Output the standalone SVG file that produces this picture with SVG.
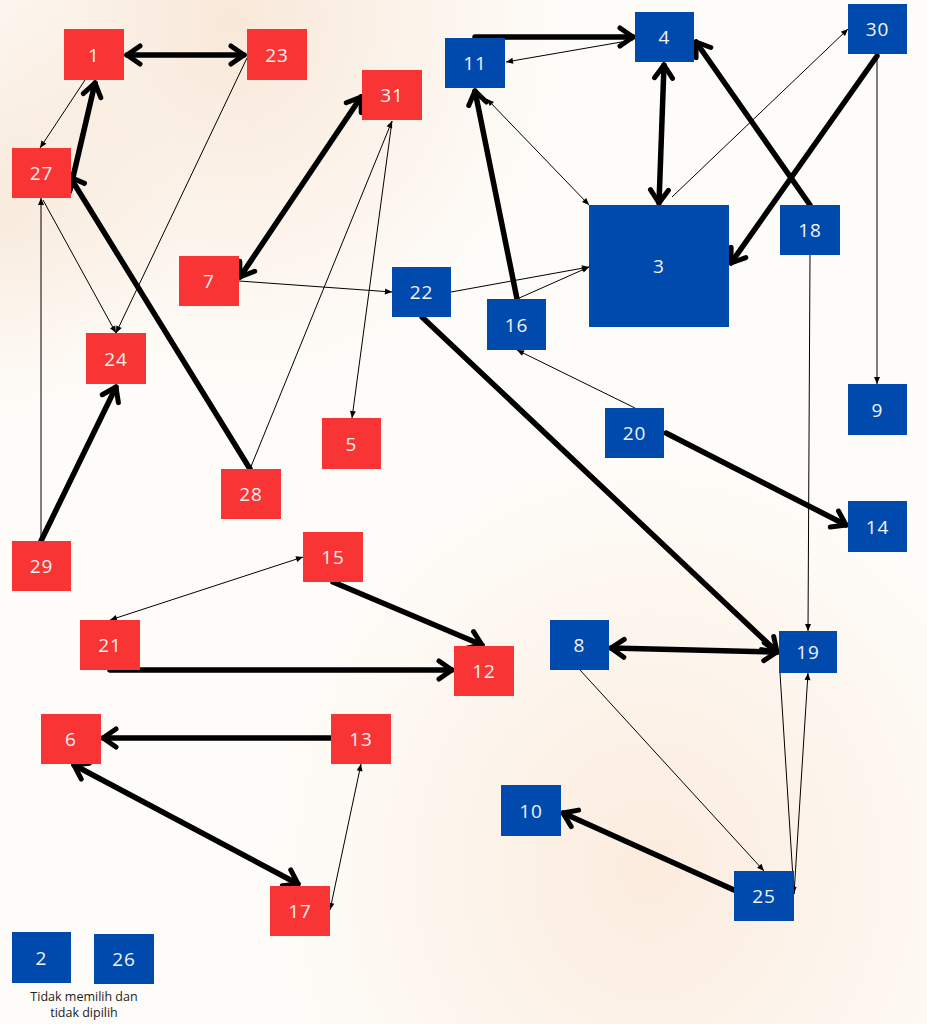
<svg xmlns="http://www.w3.org/2000/svg" width="927" height="1024" viewBox="0 0 927 1024">
<defs>
<radialGradient id="bg1" cx="0.25" cy="0.02" r="0.35"><stop offset="0" stop-color="#F8E6D6" stop-opacity="0.9"/><stop offset="1" stop-color="#F8E6D6" stop-opacity="0"/></radialGradient>
<radialGradient id="bg2" cx="0.7" cy="0.85" r="0.4"><stop offset="0" stop-color="#FBEADB" stop-opacity="0.9"/><stop offset="1" stop-color="#FBEADB" stop-opacity="0"/></radialGradient>
<radialGradient id="bg3" cx="0" cy="0.2" r="0.2"><stop offset="0" stop-color="#F7E4D2" stop-opacity="0.7"/><stop offset="1" stop-color="#F7E4D2" stop-opacity="0"/></radialGradient>
<marker id="tk" viewBox="-20 -12 24 24" markerWidth="24" markerHeight="24" refX="0" refY="0" markerUnits="userSpaceOnUse" orient="auto-start-reverse" overflow="visible">
<path d="M -13 -9 L 0 0 L -13 9" fill="none" stroke="#000" stroke-width="5" stroke-linecap="round" stroke-linejoin="round"/>
</marker>
<marker id="tn" viewBox="-8 -4 9 8" markerWidth="9" markerHeight="8" refX="0" refY="0" markerUnits="userSpaceOnUse" orient="auto-start-reverse" overflow="visible">
<path d="M -7 -3 L 0 0 L -7 3 z" fill="#000"/>
</marker>
<style>
.r{fill:#F93434}
.b{fill:#004AAD}
.t{font-family:"Open Sans","Liberation Sans",sans-serif;font-size:19px;letter-spacing:1px;fill:#F2F2F2;text-anchor:middle;dominant-baseline:central}
.k{stroke:#000;stroke-width:5.5;fill:none;stroke-linecap:round}
.n{stroke:#000;stroke-width:1;fill:none}
.k1{marker-end:url(#tk)}
.k2{marker-start:url(#tk);marker-end:url(#tk)}
.n1{marker-end:url(#tn)}
.n2{marker-start:url(#tn);marker-end:url(#tn)}
.lg{font-family:"Open Sans","Liberation Sans",sans-serif;font-size:12.5px;fill:#222;text-anchor:middle}
</style>
</defs>
<rect width="927" height="1024" fill="#FEFCF8"/>
<rect width="927" height="1024" fill="url(#bg1)"/>
<rect width="927" height="1024" fill="url(#bg2)"/>
<rect width="927" height="1024" fill="url(#bg3)"/>

<g id="connectors">
<line class="k k2" x1="127" y1="55" x2="244" y2="55"/>
<line class="k k1" x1="70" y1="190" x2="95" y2="83"/>
<line class="n n1" x1="85" y1="80" x2="40" y2="148"/>
<line class="k k1" x1="250" y1="469" x2="70" y2="177"/>
<line class="n n1" x1="247" y1="58" x2="116" y2="333"/>
<line class="n n1" x1="43" y1="200" x2="116" y2="333"/>
<line class="n n1" x1="41" y1="541" x2="41" y2="198"/>
<line class="k k1" x1="41" y1="541" x2="116" y2="387"/>
<line class="k k2" x1="240" y1="277" x2="361" y2="97"/>
<line class="n n1" x1="239" y1="281" x2="392" y2="292"/>
<line class="n n1" x1="250" y1="469" x2="392" y2="121"/>
<line class="n n1" x1="392" y1="121" x2="352" y2="418"/>
<line class="n n2" x1="303" y1="557" x2="110" y2="620"/>
<line class="k k1" x1="333" y1="582" x2="482" y2="645"/>
<line class="k k1" x1="110" y1="670" x2="452" y2="670"/>
<line class="k k1" x1="331" y1="738" x2="103" y2="738"/>
<line class="k k2" x1="74" y1="765" x2="298" y2="884"/>
<line class="n n2" x1="361" y1="764" x2="330" y2="910"/>
<line class="k k1" x1="475" y1="37" x2="633" y2="37"/>
<line class="n n1" x1="633" y1="40" x2="506" y2="62"/>
<line class="k k2" x1="664" y1="65" x2="659" y2="203"/>
<line class="k k1" x1="810" y1="205" x2="696" y2="42"/>
<line class="k k1" x1="877" y1="56" x2="731" y2="263"/>
<line class="n n1" x1="672" y1="197" x2="848" y2="29"/>
<line class="n n2" x1="487" y1="99" x2="589" y2="205"/>
<line class="k k1" x1="517" y1="299" x2="475" y2="91"/>
<line class="n n1" x1="517" y1="299" x2="589" y2="267"/>
<line class="n n1" x1="451" y1="292" x2="589" y2="267"/>
<line class="k k1" x1="422" y1="317" x2="777" y2="652"/>
<line class="n n1" x1="635" y1="408" x2="517" y2="350"/>
<line class="k k1" x1="666" y1="433" x2="846" y2="525"/>
<line class="n n1" x1="877" y1="54" x2="877" y2="384"/>
<line class="n n1" x1="810" y1="255" x2="808" y2="631"/>
<line class="k k2" x1="611" y1="648" x2="777" y2="652"/>
<line class="n n1" x1="580" y1="670" x2="764" y2="871"/>
<line class="n n1" x1="780" y1="673" x2="794" y2="894"/>
<line class="n n1" x1="794" y1="894" x2="808" y2="673"/>
<line class="k k1" x1="734" y1="890" x2="563" y2="813"/>
</g>

<g id="n1"><rect class="r" x="64" y="29" width="60" height="51"/><text class="t" x="94" y="54.5">1</text></g>
<g id="n23"><rect class="r" x="247" y="29" width="60" height="51"/><text class="t" x="277" y="54.5">23</text></g>
<g id="n31"><rect class="r" x="362" y="70" width="60" height="50"/><text class="t" x="392" y="95">31</text></g>
<g id="n27"><rect class="r" x="12" y="148" width="59" height="50"/><text class="t" x="41.5" y="173">27</text></g>
<g id="n7"><rect class="r" x="179" y="256" width="60" height="50"/><text class="t" x="209" y="281">7</text></g>
<g id="n24"><rect class="r" x="86" y="333" width="60" height="51"/><text class="t" x="116" y="358.5">24</text></g>
<g id="n5"><rect class="r" x="322" y="418" width="59" height="51"/><text class="t" x="351.5" y="443.5">5</text></g>
<g id="n28"><rect class="r" x="221" y="469" width="60" height="50"/><text class="t" x="251" y="494">28</text></g>
<g id="n29"><rect class="r" x="12" y="541" width="59" height="50"/><text class="t" x="41.5" y="566">29</text></g>
<g id="n15"><rect class="r" x="303" y="532" width="60" height="50"/><text class="t" x="333" y="557">15</text></g>
<g id="n21"><rect class="r" x="80" y="620" width="60" height="50"/><text class="t" x="110" y="645">21</text></g>
<g id="n12"><rect class="r" x="454" y="646" width="60" height="50"/><text class="t" x="484" y="671">12</text></g>
<g id="n6"><rect class="r" x="41" y="714" width="60" height="50"/><text class="t" x="71" y="739">6</text></g>
<g id="n13"><rect class="r" x="331" y="714" width="60" height="50"/><text class="t" x="361" y="739">13</text></g>
<g id="n17"><rect class="r" x="270" y="886" width="60" height="50"/><text class="t" x="300" y="911">17</text></g>

<g id="n11"><rect class="b" x="445" y="38" width="60" height="50"/><text class="t" x="475" y="63">11</text></g>
<g id="n4"><rect class="b" x="635" y="12" width="59" height="50"/><text class="t" x="664.5" y="37">4</text></g>
<g id="n30"><rect class="b" x="848" y="4" width="59" height="50"/><text class="t" x="877.5" y="29">30</text></g>
<g id="n3"><rect class="b" x="589" y="205" width="140" height="122"/><text class="t" x="659" y="266">3</text></g>
<g id="n18"><rect class="b" x="780" y="205" width="60" height="50"/><text class="t" x="810" y="230">18</text></g>
<g id="n22"><rect class="b" x="392" y="267" width="59" height="50"/><text class="t" x="421.5" y="292">22</text></g>
<g id="n16"><rect class="b" x="487" y="299" width="59" height="51"/><text class="t" x="516.5" y="324.5">16</text></g>
<g id="n9"><rect class="b" x="848" y="384" width="59" height="51"/><text class="t" x="877.5" y="409.5">9</text></g>
<g id="n20"><rect class="b" x="605" y="408" width="59" height="50"/><text class="t" x="634.5" y="433">20</text></g>
<g id="n14"><rect class="b" x="848" y="501" width="59" height="51"/><text class="t" x="877.5" y="526.5">14</text></g>
<g id="n8"><rect class="b" x="550" y="620" width="59" height="50"/><text class="t" x="579.5" y="645">8</text></g>
<g id="n19"><rect class="b" x="779" y="631" width="58" height="42"/><text class="t" x="808" y="652">19</text></g>
<g id="n10"><rect class="b" x="501" y="785" width="60" height="51"/><text class="t" x="531" y="810.5">10</text></g>
<g id="n25"><rect class="b" x="734" y="871" width="60" height="50"/><text class="t" x="764" y="896">25</text></g>
<g id="n2"><rect class="b" x="12" y="932" width="59" height="51"/><text class="t" x="41.5" y="957.5">2</text></g>
<g id="n26"><rect class="b" x="94" y="934" width="60" height="50"/><text class="t" x="124" y="959">26</text></g>

<g id="legend">
<text class="lg" x="84" y="1001">Tidak memilih dan</text>
<text class="lg" x="84" y="1017">tidak dipilih</text>
</g>
</svg>
